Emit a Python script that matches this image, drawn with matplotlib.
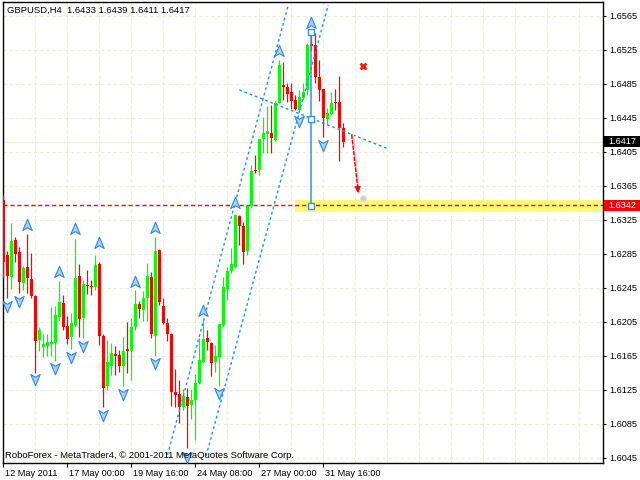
import matplotlib
matplotlib.use('Agg')
import matplotlib.pyplot as plt
import matplotlib.path as mpath
import matplotlib.transforms as mtransforms
from matplotlib.patches import Rectangle

# ---------------- data (GBPUSD H4) ----------------
symbol = "GBPUSD,H4"
opens = [1.6348, 1.6284, 1.6258, 1.6301, 1.6287, 1.6251, 1.6269, 1.6255, 1.6235, 1.6183,
         1.6175, 1.6177, 1.6179, 1.6180, 1.6211, 1.6227, 1.6200, 1.6187, 1.6201, 1.6259,
         1.6209, 1.6248, 1.6247, 1.6246, 1.6273, 1.6188, 1.6129, 1.6153, 1.6167, 1.6166,
         1.6153, 1.6173, 1.6170, 1.6199, 1.6226, 1.6219, 1.6233, 1.6258, 1.6188, 1.6289,
         1.6223, 1.6204, 1.6191, 1.6122, 1.6120, 1.6105, 1.6117, 1.6107, 1.6113, 1.6133,
         1.6158, 1.6186, 1.6180, 1.6158, 1.6163, 1.6201, 1.6244, 1.6265, 1.6270, 1.6329,
         1.6318, 1.6288, 1.6341, 1.6384, 1.6384, 1.6420, 1.6426, 1.6427, 1.6419, 1.6463,
         1.6484, 1.6481, 1.6475, 1.6466, 1.6454, 1.6468, 1.6478, 1.6532, 1.6531, 1.6493,
         1.6479, 1.6444, 1.6450, 1.6464, 1.6464, 1.6433]
highs = [1.6354, 1.6288, 1.6321, 1.6305, 1.6293, 1.6271, 1.6308, 1.6286, 1.6236, 1.6199,
         1.6190, 1.6190, 1.6222, 1.6224, 1.6253, 1.6237, 1.6212, 1.6215, 1.6302, 1.6273,
         1.6254, 1.6266, 1.6254, 1.6284, 1.6275, 1.6191, 1.6184, 1.6180, 1.6176, 1.6172,
         1.6187, 1.6205, 1.6210, 1.6242, 1.6230, 1.6241, 1.6274, 1.6264, 1.6305, 1.6291,
         1.6233, 1.6210, 1.6192, 1.6149, 1.6137, 1.6126, 1.6127, 1.6126, 1.6144, 1.6186,
         1.6207, 1.6195, 1.6181, 1.6178, 1.6202, 1.6258, 1.6270, 1.6292, 1.6332, 1.6331,
         1.6323, 1.6341, 1.6390, 1.6401, 1.6420, 1.6446, 1.6459, 1.6460, 1.6465, 1.6513,
         1.6511, 1.6486, 1.6486, 1.6472, 1.6478, 1.6486, 1.6533, 1.6545, 1.6545, 1.6513,
         1.6479, 1.6457, 1.6475, 1.6479, 1.6494, 1.6439]
lows = [1.6257, 1.6233, 1.6244, 1.6275, 1.6239, 1.6242, 1.6239, 1.6233, 1.6145, 1.6170,
        1.6164, 1.6165, 1.6165, 1.6159, 1.6206, 1.6195, 1.6179, 1.6173, 1.6199, 1.6187,
        1.6186, 1.6238, 1.6237, 1.6242, 1.6178, 1.6105, 1.6125, 1.6142, 1.6142, 1.6146,
        1.6129, 1.6145, 1.6137, 1.6195, 1.6210, 1.6206, 1.6206, 1.6186, 1.6165, 1.6225,
        1.6202, 1.6182, 1.6106, 1.6105, 1.6086, 1.6101, 1.6056, 1.6091, 1.6066, 1.6132,
        1.6156, 1.6172, 1.6141, 1.6146, 1.6129, 1.6199, 1.6231, 1.6262, 1.6268, 1.6295,
        1.6273, 1.6284, 1.6339, 1.6380, 1.6378, 1.6404, 1.6404, 1.6404, 1.6418, 1.6462,
        1.6466, 1.6464, 1.6456, 1.6454, 1.6452, 1.6466, 1.6472, 1.6525, 1.6486, 1.6465,
        1.6423, 1.6438, 1.6448, 1.6454, 1.6394, 1.6411]
closes = [1.6275, 1.6259, 1.6300, 1.6285, 1.6252, 1.6268, 1.6256, 1.6235, 1.6182, 1.6195,
          1.6179, 1.6181, 1.6181, 1.6213, 1.6228, 1.6199, 1.6185, 1.6204, 1.6257, 1.6208,
          1.6249, 1.6247, 1.6246, 1.6272, 1.6188, 1.6127, 1.6158, 1.6168, 1.6165, 1.6153,
          1.6171, 1.6171, 1.6199, 1.6226, 1.6220, 1.6233, 1.6259, 1.6191, 1.6288, 1.6228,
          1.6203, 1.6191, 1.6122, 1.6119, 1.6105, 1.6118, 1.6106, 1.6113, 1.6133, 1.6160,
          1.6185, 1.6181, 1.6157, 1.6165, 1.6202, 1.6246, 1.6265, 1.6273, 1.6331, 1.6318,
          1.6287, 1.6341, 1.6383, 1.6382, 1.6420, 1.6427, 1.6430, 1.6421, 1.6463, 1.6507,
          1.6481, 1.6473, 1.6465, 1.6455, 1.6470, 1.6475, 1.6531, 1.6529, 1.6493, 1.6478,
          1.6445, 1.6451, 1.6463, 1.6462, 1.6433, 1.6417]

date_tick_idx = [0, 16, 32, 48, 64, 80]
date_labels = ["12 May 2011", "17 May 00:00", "19 May 16:00",
               "24 May 08:00", "27 May 00:00", "31 May 16:00"]
price_ticks = [1.6045, 1.6085, 1.6125, 1.6165, 1.6205, 1.6245, 1.6285,
               1.6325, 1.6365, 1.6405, 1.6445, 1.6485, 1.6525, 1.6565]

# fractal arrows (bar index, price)
up_idx = [6, 14, 18, 24, 33, 38, 50, 58, 69, 77]
up_price = [1.6319, 1.6264, 1.6314, 1.6298, 1.6252, 1.6315, 1.6218, 1.6345, 1.6524, 1.6557]
dn_idx = [1, 4, 8, 13, 17, 20, 25, 30, 38, 46, 54, 74, 80]
dn_price = [1.6224, 1.6230, 1.6138, 1.6150, 1.6164, 1.6177, 1.6095, 1.6120,
            1.6156, 1.6046, 1.6121, 1.6441, 1.6413]

# analysis objects
target_level = 1.6342
zone_low, zone_high, zone_start = 1.63338, 1.63485, 72.9
channel_a = ([41.05, 71.25], [1.60483, 1.65779])
channel_b = ([50.7, 81.25], [1.60471, 1.65779])
trend_c = ([59.0, 95.85], [1.64779, 1.64092])
vline_idx = 77
vline_points = [1.65458, 1.64437, 1.63413]
cross_pt = (89.85, 1.65061)
forecast_from = (87.1, 1.64249)
forecast_to = (88.75, 1.63563)
xlim = (-0.15, 149.85)
ylim = (1.60384, 1.65810)

# ---------------- drawing ----------------
plt.rcParams['font.family'] = ['Liberation Sans', 'DejaVu Sans']
W, H = 640, 480
fig = plt.figure(figsize=(6.4, 4.8), dpi=100)
fig.patch.set_facecolor('white')
ax = fig.add_axes([2.7 / W, 1 - 463.3 / H, 600 / W, (463.3 - 2.3) / H])
ax.set_xlim(*xlim)
ax.set_ylim(*ylim)

GRID = '#EDEDCF'
for g in range(8, 150, 8):
    ax.axvline(g, color=GRID, lw=0.8, ls=(0, (3, 2.5)), zorder=0)
for yt in price_ticks:
    ax.axhline(yt, color=GRID, lw=0.8, ls=(0, (3, 2.5)), zorder=0)

# bid line
ax.axhline(closes[-1], color='#F2F2CC', lw=1.0, zorder=0.5)

# yellow target zone
ax.fill_between([zone_start, xlim[1]], zone_low, zone_high, color='#FFFA7A',
                lw=0, zorder=1)
ax.axhline(target_level, color='#FF0000', lw=1.0, ls=(0, (3, 2)), zorder=2)

# candles
min_h = 0.00012
for i, (o, h, l, c) in enumerate(zip(opens, highs, lows, closes)):
    col = '#00FF00' if c >= o else '#FF0000'
    ax.vlines(i, l, h, color=col, lw=0.9, zorder=3)
    bot = min(o, c)
    hgt = max(abs(c - o), min_h)
    ax.bar(i, hgt, bottom=bot, width=0.75, color=col, lw=0, zorder=3)

# channel / trend lines
BLUE = '#1E90FF'
for xs, ys in (channel_a, channel_b, trend_c):
    ax.plot(xs, ys, color=BLUE, lw=1.0, ls=(0, (2, 2)), zorder=4)

# vertical measurement line with square handles
ax.plot([vline_idx, vline_idx], [vline_points[0], vline_points[-1]],
        color='#3A8EE6', lw=1.1, zorder=5)
ax.plot([vline_idx] * 3, vline_points, ls='none', marker='s', ms=4,
        mfc='white', mec='#3A8EE6', mew=1.0, zorder=6)

# fractal arrows
up_verts = [(0, 1), (0.75, -0.8), (0, -0.35), (-0.75, -0.8), (0, 1)]
codes = [mpath.Path.MOVETO] + [mpath.Path.LINETO] * 3 + [mpath.Path.CLOSEPOLY]
up_marker = mpath.Path(up_verts, codes)
dn_marker = mpath.Path([(x, -y) for x, y in up_verts], codes)
ax.plot(up_idx, up_price, ls='none', marker=up_marker, ms=9,
        mfc='#A9D3FF', mec='#2F86E6', mew=0.8, zorder=7)
ax.plot(dn_idx, dn_price, ls='none', marker=dn_marker, ms=9,
        mfc='#A9D3FF', mec='#2F86E6', mew=0.8, zorder=7)

# red cross
ax.plot([cross_pt[0]], [cross_pt[1]], marker='x', ms=5, mew=2.0,
        color='#FF2000', zorder=7)

# forecast arrow
ax.plot([forecast_from[0] + 0.3, forecast_to[0] + 0.3],
        [forecast_from[1], forecast_to[1]], color='#FFC8C8', lw=1.5, zorder=5)
ax.annotate('', xy=forecast_to, xytext=forecast_from,
            arrowprops=dict(arrowstyle='-|>', color='#FF0000', lw=1.0,
                            ls=(0, (2.5, 1.5)), mutation_scale=9,
                            shrinkA=0, shrinkB=0), zorder=6)
ax.plot([forecast_to[0] + 1.2], [forecast_to[1] - 0.0006], marker='o', ms=4,
        mfc='#C9D2B8', mec='#DDDDDD', zorder=6)

# axes styling
for s in ax.spines.values():
    s.set_color('black')
    s.set_linewidth(1.0)
ax.yaxis.tick_right()
ax.set_yticks(price_ticks)
ax.set_yticklabels([f'{v:.4f}' for v in price_ticks])
ax.tick_params(axis='y', length=2.5, width=0.8, pad=2.5, labelsize=6.6,
               colors='black')
ax.set_xticks(date_tick_idx)
ax.set_xticklabels(date_labels, ha='left')
ax.tick_params(axis='x', length=3.2, width=0.8, pad=1.0, labelsize=6.6,
               colors='black')
off = mtransforms.ScaledTranslation(2.0 / 100, 0, fig.dpi_scale_trans)
for lab in ax.get_xticklabels():
    lab.set_transform(lab.get_transform() + off)

# price boxes on the right axis
blend = mtransforms.blended_transform_factory(fig.transFigure, ax.transData)
box_h = 10.5 / 8494


def price_box(p, fc):
    ax.add_patch(Rectangle((603.5 / W, p - box_h / 2), (W - 603.5) / W, box_h,
                           transform=blend, fc=fc, ec='none', clip_on=False,
                           zorder=10))
    ax.text(608.3 / W, p, f'{p:.4f}', transform=blend, color='white',
            fontsize=6.6, va='center', ha='left', zorder=11, clip_on=False)


price_box(closes[-1], 'black')
price_box(target_level, '#FF0000')

# texts
fig.text(7.3 / W, 1 - 10.5 / H,
         f"{symbol}  {opens[-1]:.4f} {highs[-1]:.4f} {lows[-1]:.4f} {closes[-1]:.4f}",
         fontsize=6.8, va='center', ha='left', color='black')
fig.text(5.3 / W, 1 - 455 / H,
         "RoboForex - MetaTrader4, \u00a9 2001-2011 MetaQuotes Software Corp.",
         fontsize=6.8, va='center', ha='left', color='black')

fig.savefig('out.png', dpi=100, facecolor='white')
